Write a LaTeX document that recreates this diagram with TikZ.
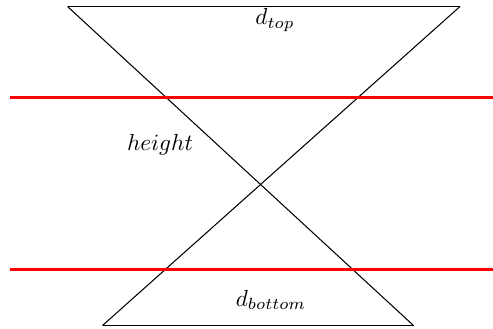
\documentclass[tikz,border=0pt]{standalone}
\definecolor{lvlred}{RGB}{255,0,0}
\begin{document}
\begin{tikzpicture}[x=0.43pt,y=-0.43pt,
  edge/.style={draw=black,line width=0.45pt},
  redline/.style={draw=lvlred,line width=1.1pt},
  lbl/.style={inner sep=0pt}]
\useasboundingbox (0,0) rectangle (493,328);
\coordinate (tl) at (67.5,6.5);
\coordinate (tr) at (460,6.5);
\coordinate (bl) at (102.5,325.5);
\coordinate (br) at (413.5,325.5);
\coordinate (r1l) at (10,97.5);
\coordinate (r1r) at (493,97.5);
\coordinate (r2l) at (10,269.5);
\coordinate (r2r) at (493,269.5);
\draw[edge] (tl) -- (tr);
\draw[edge] (bl) -- (br);
\draw[edge] (tl) -- (br);
\draw[edge] (tr) -- (bl);
\draw[redline] (r1l) -- (r1r);
\draw[redline] (r2l) -- (r2r);
\node[lbl] (dtop) at (275,20) {$d_{top}$};
\node[lbl] (h) at (160,144.5) {$height$};
\node[lbl] (dbot) at (271,300) {$d_{bottom}$};
\end{tikzpicture}
\end{document}
